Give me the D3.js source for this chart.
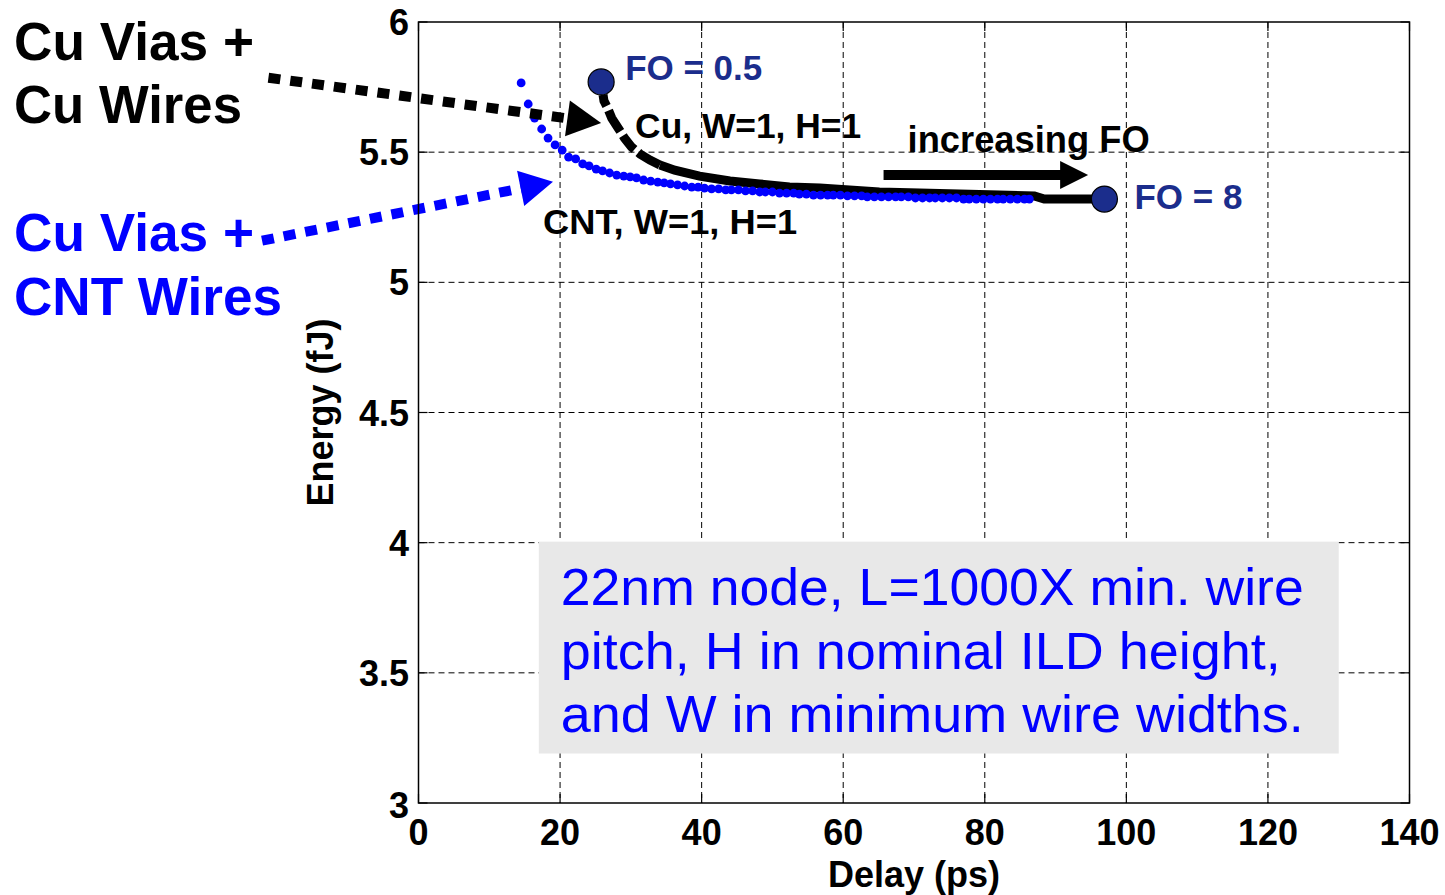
<!DOCTYPE html>
<html>
<head>
<meta charset="utf-8">
<script src="https://cdn.jsdelivr.net/npm/d3@7/dist/d3.min.js"></script>
<style>
  html, body { margin: 0; padding: 0; background: #fff; }
  svg { display: block; font-family: "Liberation Sans", Arial, sans-serif; }
</style>
</head>
<body>
<svg id="chart" width="1445" height="895"></svg>
<script>
// Axis ticks
const xTicks = [0, 20, 40, 60, 80, 100, 120, 140];
const xTickLabels = ["0", "20", "40", "60", "80", "100", "120", "140"];
const yTicks = [3, 3.5, 4, 4.5, 5, 5.5, 6];
const yTickLabels = ["3", "3.5", "4", "4.5", "5", "5.5", "6"];

// Cu vias + Cu wires, W=1, H=1 (FO = 0.5 ... 8)
const cuDelay = [25.8, 26.2, 26.7, 27.3, 28.2, 29.1, 30.1, 31.3, 32.7, 34.1, 36.2, 39.7, 44.0, 48.2,
  52.4, 56.7, 60.9, 65.1, 70.8, 76.4, 82.1, 87.0, 88.4, 96.9];
const cuEnergy = [5.770, 5.697, 5.670, 5.631, 5.593, 5.554, 5.520, 5.493, 5.470, 5.451, 5.431, 5.408, 5.389, 5.378,
  5.366, 5.362, 5.355, 5.347, 5.343, 5.339, 5.335, 5.332, 5.320, 5.320];

// Cu vias + CNT wires, W=1, H=1
const cntDelay = [14.5, 15.5, 16.4, 17.4, 18.3, 19.3, 20.3, 21.2, 22.2, 23.2, 24.1, 25.1, 26.0, 27.0,
  28.0, 29.0, 29.9, 30.8, 31.8, 32.8, 33.8, 34.7, 35.6, 36.6, 37.6, 38.6, 39.5, 40.4, 41.4, 42.4,
  43.4, 44.2, 45.2, 46.2, 47.2, 48.2, 49.0, 50.0, 51.0, 52.0, 53.0, 53.8, 54.8, 55.8, 56.8, 57.8,
  58.6, 59.6, 60.6, 61.6, 62.6, 63.4, 64.4, 65.4, 66.4, 67.4, 68.2, 69.2, 70.2, 71.2, 72.2, 73.0,
  74.0, 75.0, 76.0, 77.0, 77.8, 78.8, 79.8, 80.8, 81.8, 82.6, 83.6, 84.6, 85.6, 86.3];
const cntEnergy = [5.766, 5.685, 5.631, 5.589, 5.554, 5.528, 5.508, 5.481, 5.474, 5.455, 5.447, 5.435, 5.428, 5.420,
  5.412, 5.408, 5.405, 5.401, 5.393, 5.389, 5.385, 5.382, 5.378, 5.374, 5.370, 5.366, 5.366, 5.362, 5.359, 5.359,
  5.355, 5.355, 5.355, 5.351, 5.351, 5.347, 5.347, 5.347, 5.343, 5.343, 5.343, 5.339, 5.339, 5.335, 5.335, 5.335,
  5.335, 5.335, 5.332, 5.332, 5.332, 5.328, 5.328, 5.328, 5.328, 5.328, 5.328, 5.328, 5.324, 5.324, 5.324, 5.324,
  5.324, 5.324, 5.324, 5.320, 5.320, 5.320, 5.320, 5.320, 5.320, 5.320, 5.320, 5.320, 5.320, 5.320];

// End points of the fan-out sweep
const foLabels = ["FO = 0.5", "FO = 8"];
const foDelay = [25.8, 96.9];
const foEnergy = [5.770, 5.320];

const noteLines = ["22nm node, L=1000X min. wire", "pitch, H in nominal ILD height,", "and W in minimum wire widths."];

const svg = d3.select("#chart");
const x = d3.scaleLinear().domain([0, 140]).range([418.5, 1409.5]);
const y = d3.scaleLinear().domain([3, 6]).range([803, 22]);
const [x0, x1] = x.range();
const [y0, y1] = y.range();

const navy = "#1b2d8c";
const blue = "#0000ff";

// Dashed grid
const grid = svg.append("g").attr("stroke", "#000").attr("stroke-width", 1).attr("stroke-dasharray", "6,4");
grid.selectAll("line.gx").data(xTicks.filter(v => v > 0 && v < 140)).join("line")
  .attr("x1", d => x(d)).attr("x2", d => x(d)).attr("y1", y1).attr("y2", y0);
grid.selectAll("line.gy").data(yTicks.filter(v => v > 3 && v < 6)).join("line")
  .attr("x1", x0).attr("x2", x1).attr("y1", d => y(d)).attr("y2", d => y(d));

// Note box
const note = svg.append("g");
note.append("rect").attr("x", x(17)).attr("y", y(4.0) - 1).attr("width", x(130) - x(17))
  .attr("height", y(3.19) - y(4.0) + 1).attr("fill", "#e8e8e8");
const noteLens = [743, 720, 743];
note.selectAll("text").data(noteLines).join("text")
  .attr("x", x(20.1)).attr("y", (d, i) => 605 + i * 63.5)
  .attr("font-size", 52).attr("fill", blue)
  .attr("textLength", (d, i) => noteLens[i]).attr("lengthAdjust", "spacingAndGlyphs")
  .text(d => d);

// Ticks (inside, all four sides)
const ticks = svg.append("g").attr("stroke", "#000").attr("stroke-width", 1.2);
xTicks.forEach(v => {
  ticks.append("line").attr("x1", x(v)).attr("x2", x(v)).attr("y1", y0).attr("y2", y0 - 9);
  ticks.append("line").attr("x1", x(v)).attr("x2", x(v)).attr("y1", y1).attr("y2", y1 + 9);
});
yTicks.forEach(v => {
  ticks.append("line").attr("x1", x0).attr("x2", x0 + 9).attr("y1", y(v)).attr("y2", y(v));
  ticks.append("line").attr("x1", x1).attr("x2", x1 - 9).attr("y1", y(v)).attr("y2", y(v));
});

// Cu curve: dashed where the sweep is steep, merging into a solid band
const cuPts = cuDelay.map((d, i) => [d, cuEnergy[i]]);
const line = d3.line().x(d => x(d[0])).y(d => y(d[1]));
const split = 9;
svg.append("path").datum(cuPts.slice(0, split + 1)).attr("d", line)
  .attr("fill", "none").attr("stroke", "#000").attr("stroke-width", 9)
  .attr("stroke-dasharray", "0 13 12 5 24 5 18 5 40");
svg.append("path").datum(cuPts.slice(split)).attr("d", line)
  .attr("fill", "none").attr("stroke", "#000").attr("stroke-width", 9);

// CNT curve: dense dots
svg.append("g").selectAll("circle").data(cntDelay).join("circle")
  .attr("cx", d => x(d)).attr("cy", (d, i) => y(cntEnergy[i])).attr("r", 4.4)
  .attr("fill", blue);

// FO end markers
svg.append("g").selectAll("circle").data(foDelay).join("circle")
  .attr("cx", d => x(d)).attr("cy", (d, i) => y(foEnergy[i])).attr("r", 13)
  .attr("fill", navy).attr("stroke", "#000").attr("stroke-width", 1.2);
svg.append("g").selectAll("text").data(foLabels).join("text")
  .attr("x", (d, i) => x(foDelay[i]) + (i === 0 ? 24 : 30))
  .attr("y", (d, i) => y(foEnergy[i]) + (i === 0 ? -2 : 10))
  .attr("font-size", 35).attr("font-weight", "bold").attr("fill", navy)
  .text(d => d);

// Curve labels
const bold = (t, xv, yv, size, len) => {
  const el = svg.append("text").attr("x", xv).attr("y", yv).attr("font-size", size)
    .attr("font-weight", "bold").attr("fill", "#000").text(t);
  if (len) el.attr("textLength", len).attr("lengthAdjust", "spacingAndGlyphs");
  return el;
};
bold("Cu, W=1, H=1", x(30.6), 138, 35, 226);
bold("CNT, W=1, H=1", x(17.6), 234, 35, 254);
bold("increasing FO", x(69.1), 152, 36, 242);

// Arrow helper: shaft from tail to the head's base, then a filled triangle
function arrow(tail, tip, color, width, headLen, headHalf, dash) {
  const dx = tip[0] - tail[0], dy = tip[1] - tail[1];
  const len = Math.hypot(dx, dy), ux = dx / len, uy = dy / len;
  const bx = tip[0] - ux * headLen, by = tip[1] - uy * headLen;
  const shaft = svg.append("line").attr("x1", tail[0]).attr("y1", tail[1])
    .attr("x2", bx + ux * 2).attr("y2", by + uy * 2)
    .attr("stroke", color).attr("stroke-width", width);
  if (dash) shaft.attr("stroke-dasharray", dash);
  svg.append("polygon")
    .attr("points", [[tip[0], tip[1]], [bx - uy * headHalf, by + ux * headHalf], [bx + uy * headHalf, by - ux * headHalf]]
      .map(p => p.join(",")).join(" "))
    .attr("fill", color);
}
arrow([x(65.7), y(5.412)], [x(94.6), y(5.412)], "#000", 10, 28, 14);
arrow([x(-21.2), y(5.786)], [x(25.8), y(5.612)], "#000", 10, 34, 18, "12 10");
arrow([x(-22.1), y(5.160)], [x(19.0), y(5.386)], blue, 10, 33, 18, "12 10");

// Side annotations
const side = [
  ["Cu Vias +", 60, "#000", 240], ["Cu Wires", 123, "#000", 228],
  ["Cu Vias +", 251, blue, 240], ["CNT Wires", 315, blue, 268]
];
svg.append("g").selectAll("text").data(side).join("text")
  .attr("x", 14).attr("y", d => d[1]).attr("font-size", 53).attr("font-weight", "bold")
  .attr("textLength", d => d[3]).attr("lengthAdjust", "spacingAndGlyphs")
  .attr("fill", d => d[2]).text(d => d[0]);

// Axes frame
svg.append("rect").attr("x", x0).attr("y", y1).attr("width", x1 - x0).attr("height", y0 - y1)
  .attr("fill", "none").attr("stroke", "#000").attr("stroke-width", 1.5);

// Tick labels
svg.append("g").selectAll("text").data(xTicks).join("text")
  .attr("x", d => x(d)).attr("y", 845).attr("text-anchor", "middle")
  .attr("font-size", 36).attr("font-weight", "bold").text((d, i) => xTickLabels[i]);
svg.append("g").selectAll("text").data(yTicks).join("text")
  .attr("x", 409).attr("y", d => y(d) + (d === 3 ? 15 : 13)).attr("text-anchor", "end")
  .attr("font-size", 36).attr("font-weight", "bold").text((d, i) => yTickLabels[i]);

// Axis titles
svg.append("text").attr("x", (x0 + x1) / 2).attr("y", 887).attr("text-anchor", "middle")
  .attr("font-size", 36).attr("font-weight", "bold").text("Delay (ps)");
svg.append("text").attr("transform", `translate(333,${(y0 + y1) / 2}) rotate(-90)`)
  .attr("text-anchor", "middle").attr("font-size", 36).attr("font-weight", "bold").text("Energy (fJ)");
</script>
</body>
</html>
